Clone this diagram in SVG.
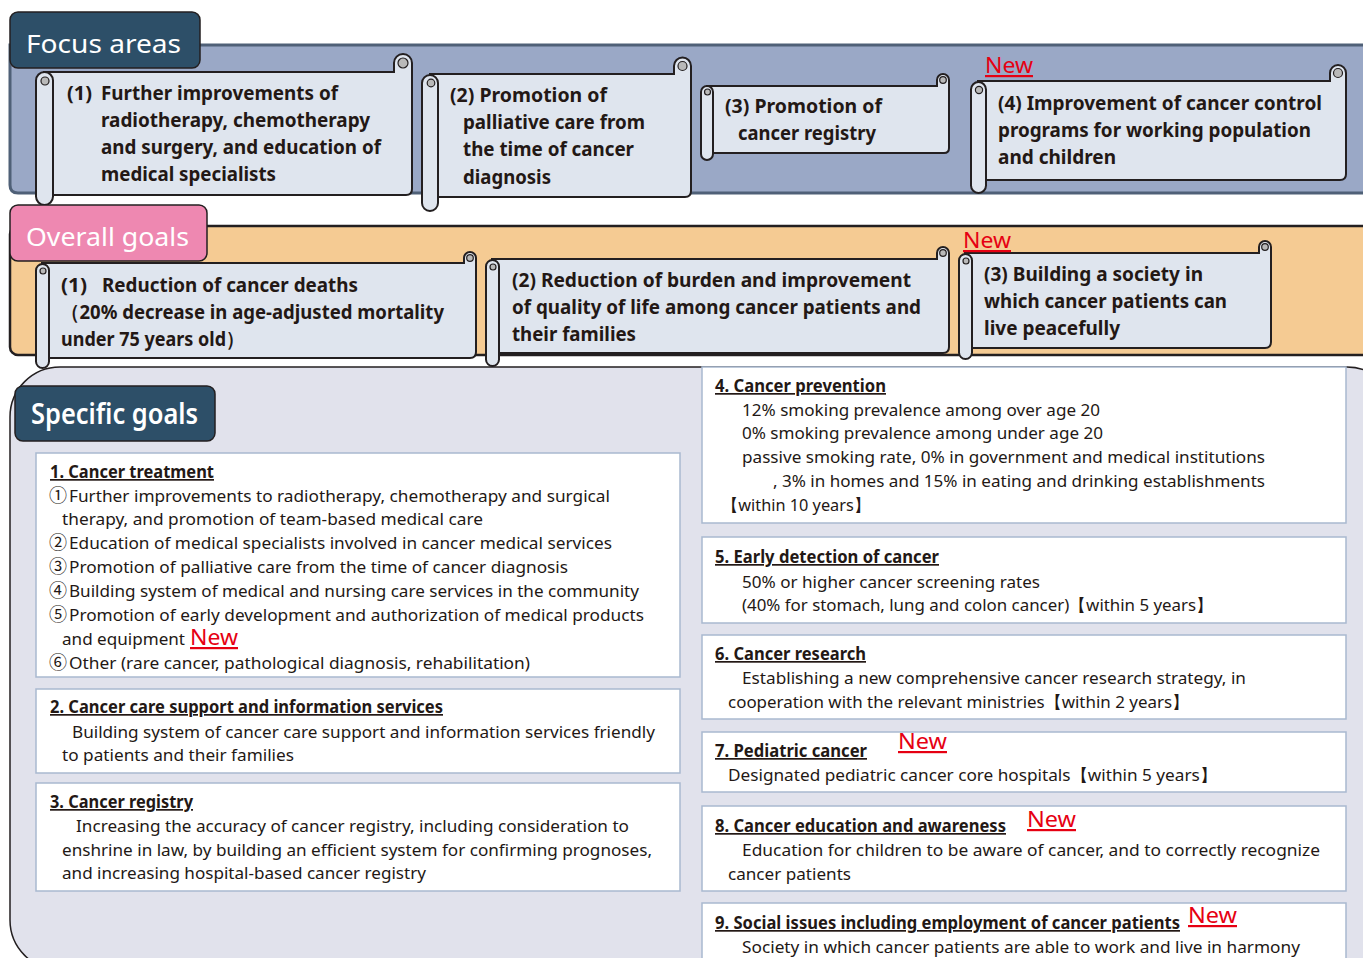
<svg xmlns="http://www.w3.org/2000/svg" width="1363" height="958" viewBox="0 0 1363 958">
<defs>
<style>
.tab{stroke:#231f20;stroke-width:1.5}
.tabt{font-family:"Noto Sans","Open Sans",sans-serif;fill:#fff}
.scr{fill:#dfe5ee;stroke:#231f20;stroke-width:2}
.curl{fill:#b9b9b9;stroke:#231f20;stroke-width:1.2}
.st{font-family:"Noto Sans","Open Sans",sans-serif;font-weight:700;font-size:20px;fill:#231815}
.box{fill:#fff;stroke:#a9b9cf;stroke-width:1.5}
.bt{font-family:"Noto Sans","Open Sans",sans-serif;font-size:17px;fill:#231815}
.cj{font-family:"Noto Sans CJK JP","Noto Sans",sans-serif;font-size:18px}
.bh{font-family:"Noto Sans","Open Sans",sans-serif;font-size:17px;font-weight:700;fill:#231815;text-decoration:underline}
.new{font-family:"Noto Sans","Open Sans",sans-serif;font-size:22px;fill:#e60012;text-decoration:underline}
</style>
</defs>

<!-- background bands -->
<g id="focus-band">
<path d="M10 45 H1375 V193 H18 Q10 193 10 185 Z" fill="#9aa8c6" stroke="#4f6077" stroke-width="3"/>
</g>
<g id="overall-band">
<rect x="10" y="226" width="1370" height="129" rx="8" fill="#f5cb93" stroke="#231f20" stroke-width="2.5"/>
</g>
<g id="specific-panel">
<rect x="10" y="367" width="1387" height="603" rx="50" fill="#e1e2ec" stroke="#231f20" stroke-width="1.5"/>
</g>

<!-- tabs -->
<g id="tab-focus">
<rect class="tab" x="10" y="12" width="190" height="56" rx="8" fill="#2d4f68"/>
<text class="tabt" x="26" y="53" font-size="26" textLength="155" lengthAdjust="spacingAndGlyphs">Focus areas</text>
</g>

<!-- Focus scrolls -->
<g id="focus-1">
<path class="scr" d="M44 72 H394 V63 A9 9 0 0 1 412 63 V189 Q412 195 406 195 H44 Z"/>
<circle class="curl" cx="403" cy="63" r="5"/>
<rect class="scr" x="36" y="72" width="17" height="133" rx="8.5"/>
<circle class="curl" cx="45" cy="81" r="4"/>
<text class="st" x="67" y="100" textLength="25" lengthAdjust="spacingAndGlyphs">(1)</text>
<text class="st" x="101" y="100" textLength="237" lengthAdjust="spacingAndGlyphs">Further improvements of</text>
<text class="st" x="101" y="127" textLength="269" lengthAdjust="spacingAndGlyphs">radiotherapy, chemotherapy</text>
<text class="st" x="101" y="154" textLength="280" lengthAdjust="spacingAndGlyphs">and surgery, and education of</text>
<text class="st" x="101" y="181" textLength="175" lengthAdjust="spacingAndGlyphs">medical specialists</text>
</g>
<g id="focus-2">
<path class="scr" d="M430 74 H674 V66 A8.5 8.5 0 0 1 691 66 V191 Q691 197 685 197 H430 Z"/>
<circle class="curl" cx="682.5" cy="66" r="4.5"/>
<rect class="scr" x="422" y="75" width="16" height="136" rx="8"/>
<circle class="curl" cx="431" cy="83" r="3.8"/>
<text class="st" x="450" y="102" textLength="157" lengthAdjust="spacingAndGlyphs">(2) Promotion of</text>
<text class="st" x="463" y="129" textLength="182" lengthAdjust="spacingAndGlyphs">palliative care from</text>
<text class="st" x="463" y="156" textLength="171" lengthAdjust="spacingAndGlyphs">the time of cancer</text>
<text class="st" x="463" y="184" textLength="88" lengthAdjust="spacingAndGlyphs">diagnosis</text>
</g>
<g id="focus-3">
<path class="scr" d="M707 86 H937 V80 A6 6 0 0 1 949 80 V148 Q949 153 944 153 H707 Z"/>
<circle class="curl" cx="943" cy="80" r="3.3"/>
<rect class="scr" x="701" y="86" width="12" height="74" rx="6"/>
<circle class="curl" cx="707.5" cy="92" r="3"/>
<text class="st" x="725" y="113" textLength="157" lengthAdjust="spacingAndGlyphs">(3) Promotion of</text>
<text class="st" x="738" y="140" textLength="138" lengthAdjust="spacingAndGlyphs">cancer registry</text>
</g>
<g id="focus-4">
<path class="scr" d="M978 81 H1330 V73 A8 8 0 0 1 1346 73 V174 Q1346 180 1340 180 H978 Z"/>
<circle class="curl" cx="1338" cy="73" r="4.5"/>
<rect class="scr" x="971" y="82" width="15" height="111" rx="7.5"/>
<circle class="curl" cx="979" cy="90" r="3.6"/>
<text class="st" x="998" y="110" textLength="324" lengthAdjust="spacingAndGlyphs">(4) Improvement of cancer control</text>
<text class="st" x="998" y="137" textLength="313" lengthAdjust="spacingAndGlyphs">programs for working population</text>
<text class="st" x="998" y="164" textLength="118" lengthAdjust="spacingAndGlyphs">and children</text>
<text class="new" x="985" y="73" textLength="48" lengthAdjust="spacingAndGlyphs">New</text>
</g>

<g id="tab-overall">
<rect class="tab" x="10" y="205" width="197" height="56" rx="8" fill="#ee88b1"/>
<text class="tabt" x="26" y="246" font-size="26" textLength="163" lengthAdjust="spacingAndGlyphs">Overall goals</text>
</g>

<!-- Overall scrolls -->
<g id="overall-1">
<path class="scr" d="M42 263 H464 V258 A6 6 0 0 1 476 258 V352 Q476 358 470 358 H42 Z"/>
<circle class="curl" cx="470" cy="258" r="3.3"/>
<rect class="scr" x="36" y="264" width="13" height="104" rx="6.5"/>
<circle class="curl" cx="43" cy="271" r="3"/>
<text class="st" x="61" y="292" textLength="26" lengthAdjust="spacingAndGlyphs">(1)</text>
<text class="st" x="102" y="292" textLength="256" lengthAdjust="spacingAndGlyphs">Reduction of cancer deaths</text>
<text class="st" x="61" y="319" textLength="383" lengthAdjust="spacingAndGlyphs">（20% decrease in age-adjusted mortality</text>
<text class="st" x="61" y="346" textLength="183" lengthAdjust="spacingAndGlyphs">under 75 years old）</text>
</g>
<g id="overall-2">
<path class="scr" d="M492 259 H937 V253 A6 6 0 0 1 949 253 V347 Q949 353 943 353 H492 Z"/>
<circle class="curl" cx="943" cy="253" r="3.3"/>
<rect class="scr" x="486" y="260" width="13" height="106" rx="6.5"/>
<circle class="curl" cx="493" cy="267" r="3"/>
<text class="st" x="512" y="287" textLength="399" lengthAdjust="spacingAndGlyphs">(2) Reduction of burden and improvement</text>
<text class="st" x="512" y="314" textLength="409" lengthAdjust="spacingAndGlyphs">of quality of life among cancer patients and</text>
<text class="st" x="512" y="341" textLength="124" lengthAdjust="spacingAndGlyphs">their families</text>
</g>
<g id="overall-3">
<path class="scr" d="M965 253 H1259 V247 A6 6 0 0 1 1271 247 V342 Q1271 348 1265 348 H965 Z"/>
<circle class="curl" cx="1265" cy="247" r="3.3"/>
<rect class="scr" x="959" y="254" width="13" height="105" rx="6.5"/>
<circle class="curl" cx="966" cy="261" r="3"/>
<text class="st" x="984" y="281" textLength="219" lengthAdjust="spacingAndGlyphs">(3) Building a society in</text>
<text class="st" x="984" y="308" textLength="243" lengthAdjust="spacingAndGlyphs">which cancer patients can</text>
<text class="st" x="984" y="335" textLength="136" lengthAdjust="spacingAndGlyphs">live peacefully</text>
<text class="new" x="963" y="248" textLength="48" lengthAdjust="spacingAndGlyphs">New</text>
</g>

<g id="tab-specific">
<rect class="tab" x="15" y="386" width="200" height="55" rx="8" fill="#2d4f68"/>
<text class="tabt" x="31" y="424" font-size="28" font-weight="600" textLength="167" lengthAdjust="spacingAndGlyphs">Specific goals</text>
</g>

<!-- Specific goal boxes -->
<g id="goal-1">
<rect class="box" x="36" y="453" width="644" height="224"/>
<text class="bh" x="50" y="478" textLength="164" lengthAdjust="spacingAndGlyphs">1. Cancer treatment</text>
<text class="bt cj" x="49" y="502">①</text>
<text class="bt" x="69" y="502" textLength="541" lengthAdjust="spacingAndGlyphs">Further improvements to radiotherapy, chemotherapy and surgical</text>
<text class="bt" x="62" y="525" textLength="421" lengthAdjust="spacingAndGlyphs">therapy, and promotion of team-based medical care</text>
<text class="bt cj" x="49" y="549">②</text>
<text class="bt" x="69" y="549" textLength="543" lengthAdjust="spacingAndGlyphs">Education of medical specialists involved in cancer medical services</text>
<text class="bt cj" x="49" y="573">③</text>
<text class="bt" x="69" y="573" textLength="499" lengthAdjust="spacingAndGlyphs">Promotion of palliative care from the time of cancer diagnosis</text>
<text class="bt cj" x="49" y="597">④</text>
<text class="bt" x="69" y="597" textLength="570" lengthAdjust="spacingAndGlyphs">Building system of medical and nursing care services in the community</text>
<text class="bt cj" x="49" y="621">⑤</text>
<text class="bt" x="69" y="621" textLength="575" lengthAdjust="spacingAndGlyphs">Promotion of early development and authorization of medical products</text>
<text class="bt" x="62" y="645" textLength="123" lengthAdjust="spacingAndGlyphs">and equipment</text>
<text class="new" x="190" y="645" font-size="20" textLength="48" lengthAdjust="spacingAndGlyphs">New</text>
<text class="bt cj" x="49" y="669">⑥</text>
<text class="bt" x="69" y="669" textLength="461" lengthAdjust="spacingAndGlyphs">Other (rare cancer, pathological diagnosis, rehabilitation)</text>
</g>
<g id="goal-2">
<rect class="box" x="36" y="689" width="644" height="84"/>
<text class="bh" x="50" y="713" textLength="393" lengthAdjust="spacingAndGlyphs">2. Cancer care support and information services</text>
<text class="bt" x="72" y="738" textLength="583" lengthAdjust="spacingAndGlyphs">Building system of cancer care support and information services friendly</text>
<text class="bt" x="62" y="761" textLength="232" lengthAdjust="spacingAndGlyphs">to patients and their families</text>
</g>
<g id="goal-3">
<rect class="box" x="36" y="783" width="644" height="108"/>
<text class="bh" x="50" y="808" textLength="143" lengthAdjust="spacingAndGlyphs">3. Cancer registry</text>
<text class="bt" x="76" y="832" textLength="553" lengthAdjust="spacingAndGlyphs">Increasing the accuracy of cancer registry, including consideration to</text>
<text class="bt" x="62" y="856" textLength="590" lengthAdjust="spacingAndGlyphs">enshrine in law, by building an efficient system for confirming prognoses,</text>
<text class="bt" x="62" y="879" textLength="364" lengthAdjust="spacingAndGlyphs">and increasing hospital-based cancer registry</text>
</g>
<g id="goal-4">
<rect class="box" x="702" y="367" width="644" height="156"/>
<text class="bh" x="715" y="392" textLength="171" lengthAdjust="spacingAndGlyphs">4. Cancer prevention</text>
<text class="bt" x="742" y="416" textLength="358" lengthAdjust="spacingAndGlyphs">12% smoking prevalence among over age 20</text>
<text class="bt" x="742" y="439" textLength="361" lengthAdjust="spacingAndGlyphs">0% smoking prevalence among under age 20</text>
<text class="bt" x="742" y="463" textLength="523" lengthAdjust="spacingAndGlyphs">passive smoking rate, 0% in government and medical institutions</text>
<text class="bt" x="773" y="487" textLength="492" lengthAdjust="spacingAndGlyphs">, 3% in homes and 15% in eating and drinking establishments</text>
<text class="bt" x="722" y="511" textLength="148" lengthAdjust="spacingAndGlyphs">【within 10 years】</text>
</g>
<g id="goal-5">
<rect class="box" x="702" y="537" width="644" height="86"/>
<text class="bh" x="715" y="563" textLength="224" lengthAdjust="spacingAndGlyphs">5. Early detection of cancer</text>
<text class="bt" x="742" y="588" textLength="298" lengthAdjust="spacingAndGlyphs">50% or higher cancer screening rates</text>
<text class="bt" x="742" y="611" textLength="471" lengthAdjust="spacingAndGlyphs">(40% for stomach, lung and colon cancer)【within 5 years】</text>
</g>
<g id="goal-6">
<rect class="box" x="702" y="635" width="644" height="84"/>
<text class="bh" x="715" y="660" textLength="151" lengthAdjust="spacingAndGlyphs">6. Cancer research</text>
<text class="bt" x="742" y="684" textLength="504" lengthAdjust="spacingAndGlyphs">Establishing a new comprehensive cancer research strategy, in</text>
<text class="bt" x="728" y="708" textLength="461" lengthAdjust="spacingAndGlyphs">cooperation with the relevant ministries【within 2 years】</text>
</g>
<g id="goal-7">
<rect class="box" x="702" y="732" width="644" height="60"/>
<text class="bh" x="715" y="757" textLength="152" lengthAdjust="spacingAndGlyphs">7. Pediatric cancer</text>
<text class="new" x="898" y="749" textLength="49" lengthAdjust="spacingAndGlyphs">New</text>
<text class="bt" x="728" y="781" textLength="489" lengthAdjust="spacingAndGlyphs">Designated pediatric cancer core hospitals【within 5 years】</text>
</g>
<g id="goal-8">
<rect class="box" x="702" y="806" width="644" height="85"/>
<text class="bh" x="715" y="832" textLength="291" lengthAdjust="spacingAndGlyphs">8. Cancer education and awareness</text>
<text class="new" x="1027" y="827" textLength="49" lengthAdjust="spacingAndGlyphs">New</text>
<text class="bt" x="742" y="856" textLength="578" lengthAdjust="spacingAndGlyphs">Education for children to be aware of cancer, and to correctly recognize</text>
<text class="bt" x="728" y="880" textLength="123" lengthAdjust="spacingAndGlyphs">cancer patients</text>
</g>
<g id="goal-9">
<rect class="box" x="702" y="903" width="644" height="80"/>
<text class="bh" x="715" y="929" textLength="465" lengthAdjust="spacingAndGlyphs">9. Social issues including employment of cancer patients</text>
<text class="new" x="1188" y="923" textLength="49" lengthAdjust="spacingAndGlyphs">New</text>
<text class="bt" x="742" y="953" textLength="558" lengthAdjust="spacingAndGlyphs">Society in which cancer patients are able to work and live in harmony</text>
</g>

<g id="connectors"></g>
</svg>
